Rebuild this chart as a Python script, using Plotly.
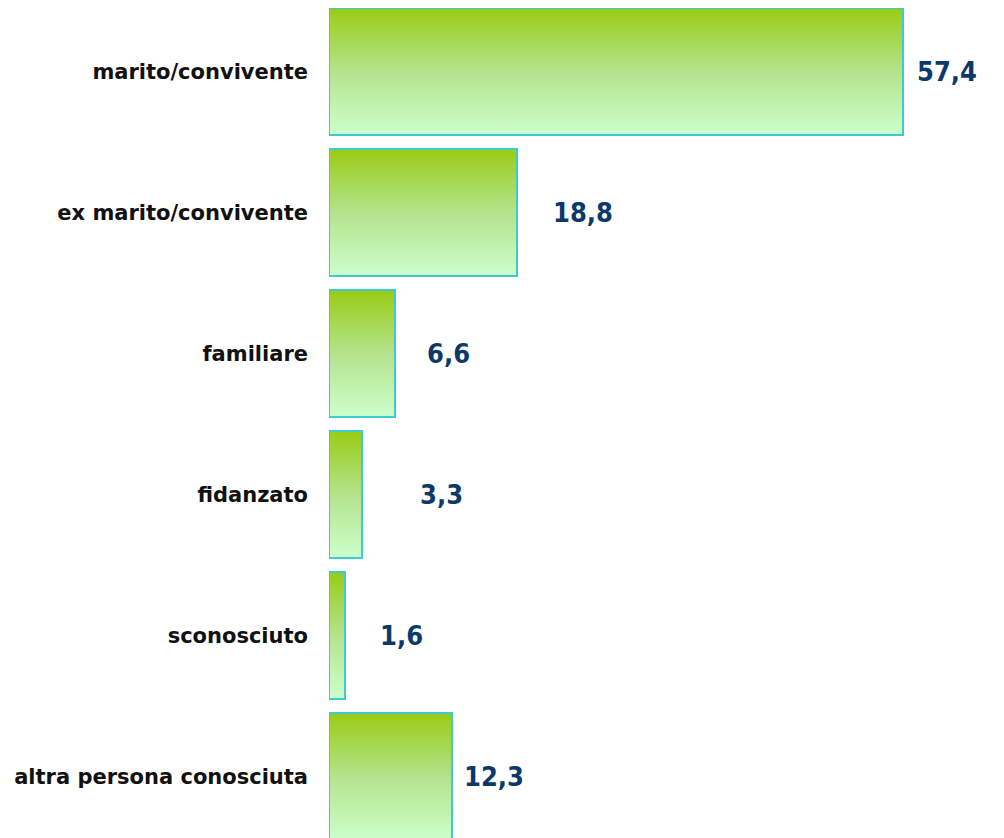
import plotly.graph_objects as go

categories = ["marito/convivente", "ex marito/convivente", "familiare",
              "fidanzato", "sconosciuto", "altra persona conosciuta"]
values = [57.4, 18.8, 6.6, 3.3, 1.6, 12.3]
value_labels = ["57,4", "18,8", "6,6", "3,3", "1,6", "12,3"]
label_gaps = [12, 34, 30, 56, 33, 10]

side_text_1 = ["M", "u", "p", "e"]
side_text_2 = ["L", "p", "s", "l", "c", "c", "c", "s", "c", "s", "l", "s"]

half = 0.45
fig = go.Figure()
for i, v in enumerate(values):
    fig.add_trace(go.Scatter(
        x=[0, v, v, 0, 0],
        y=[i - half, i - half, i + half, i + half, i - half],
        mode="lines",
        fill="toself",
        fillgradient=dict(type="vertical",
                          colorscale=[[0, "#99cc14"], [0.5, "#b4e38c"], [1, "#ccffcc"]],
                          start=i - half, stop=i + half),
        line=dict(color="#3cccd0", width=2),
        cliponaxis=False,
        name=categories[i],
        showlegend=False,
        hoverinfo="skip",
    ))

for i, (v, lab, g) in enumerate(zip(values, value_labels, label_gaps)):
    fig.add_annotation(x=v, y=i, xref="x", yref="y", text=f"<b>{lab}</b>",
                       showarrow=False, xanchor="left", yanchor="middle", xshift=g,
                       font=dict(family="DejaVu Sans Condensed, DejaVu Sans", size=27, color="#0b3a6a"))

side_x = (988 - 321) / 683
fig.add_annotation(x=side_x, y=0.8305, xref="paper", yref="paper",
                   text="<br>".join(f"<b>{c}</b>" for c in side_text_1),
                   showarrow=False, xanchor="left", yanchor="top", align="left",
                   font=dict(family="DejaVu Sans", size=20.5, color="#262626"))
fig.add_annotation(x=side_x, y=0.6706, xref="paper", yref="paper",
                   text="<br>".join(f"<b>{c}</b>" for c in side_text_2),
                   showarrow=False, xanchor="left", yanchor="top", align="left",
                   font=dict(family="DejaVu Sans", size=20.5, color="#262626"))

fig.update_layout(
    width=1004, height=838,
    margin=dict(l=321, r=0, t=0, b=0),
    plot_bgcolor="white", paper_bgcolor="white",
    xaxis=dict(visible=False, range=[0, 68.3], fixedrange=True),
    yaxis=dict(range=[5.493, -0.4504], tickmode="array", tickvals=list(range(len(categories))),
               ticktext=[f"<b>{c}</b>" for c in categories], showgrid=False, zeroline=False,
               showline=False, ticks="", ticklabelstandoff=20,
               tickfont=dict(family="DejaVu Sans", size=21, color="#111111")),
)
fig.write_html("out.html")
